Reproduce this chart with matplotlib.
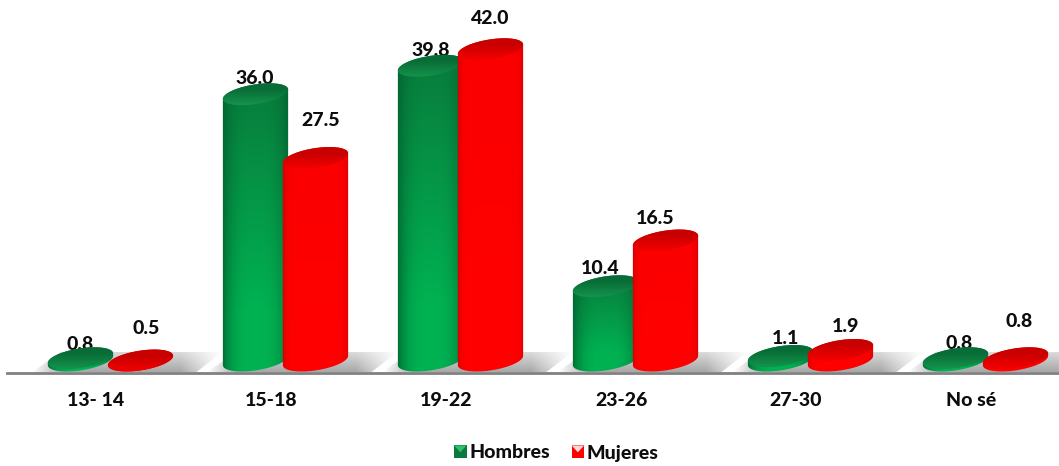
import numpy as np
import matplotlib
matplotlib.use("Agg")
import matplotlib.pyplot as plt
from matplotlib.patches import Patch, PathPatch, Polygon, Rectangle
from matplotlib.path import Path
from matplotlib.legend_handler import HandlerBase

categories = ["13- 14", "15-18", "19-22", "23-26", "27-30", "No sé"]
hombres = [0.8, 36.0, 39.8, 10.4, 1.1, 0.8]
mujeres = [0.5, 27.5, 42.0, 16.5, 1.9, 0.8]

# label nudges in pixels from the top of each bar (dx, dy up)
lab_h = [(0, 14), (-1, 16), (0, 15), (-5, 18), (5, 18), (4, 15)]
lab_m = [(6, 32), (5, 38), (0, 31), (-10, 22), (5, 24), (4, 37)]

PXU = 175.0      # pixels per category
PYU = 7.5        # pixels per value unit
AXMIN = 0.5      # value at the foot of the bars
X0 = 96.0
Y0 = 360.5
OFF_H, OFF_M = -15.5, 44.5
A, B, TH = 33.0, 9.8, np.radians(9)
FS = 14
TXT = "#0d0d0d"

W, H = 1059, 466
plt.rcParams["font.family"] = ["Lato", "DejaVu Sans"]
fig = plt.figure(figsize=(W / 100, H / 100), dpi=100, facecolor="white")
ax = fig.add_axes([0, 0, 1, 1])


def pts(xc, v, t):
    ex = A * np.cos(t) * np.cos(TH) - B * np.sin(t) * np.sin(TH)
    ey = A * np.cos(t) * np.sin(TH) + B * np.sin(t) * np.cos(TH)
    return np.column_stack([xc + ex / PXU, v + ey / PYU])


def grad_image(rgb, xr, yr, clip, z):
    im = ax.imshow(rgb, extent=[xr[0], xr[1], yr[0], yr[1]], origin="lower",
                   aspect="auto", interpolation="bilinear", zorder=z)
    p = PathPatch(clip, transform=ax.transData, fc="none", ec="none")
    im.set_clip_path(p)
    return im


def lerp(a, b, f):
    return np.array(a) + (np.array(b) - np.array(a)) * f[..., None]


def cylinder(xc, v, kind, z):
    t0 = np.arctan2(-B * np.sin(TH), A * np.cos(TH))
    low = pts(xc, AXMIN, np.linspace(t0 + np.pi, t0 + 2 * np.pi, 60))
    upp = pts(xc, v, np.linspace(t0, t0 + np.pi, 60))
    body = Path(np.vstack([low, upp, low[:1]]), closed=True)
    xr = (xc - 36 / PXU, xc + 36 / PXU)
    yr = (AXMIN - 14 / PYU, v + 14 / PYU)
    u = np.linspace(-1, 1, 90)
    vv = np.linspace(0, 1, 160)
    U, V = np.meshgrid(u, vv)
    if kind == "h":
        c = lerp((8, 128, 62), (0, 178, 82), np.clip(1.3 - V * 1.4, 0, 1))
        edge = np.array((0, 96, 46))
        f = 1 - np.abs(U) ** 3.2
    else:
        c = lerp((250, 0, 0), (255, 0, 0), np.clip(1.2 - V * 1.2, 0, 1))
        edge = np.array((165, 0, 0))
        f = np.clip(1 - np.abs(U) ** 11, 0, 1)
    rgb = edge + (c - edge) * f[..., None]
    grad_image(rgb / 255, xr, yr, body, z)
    # top face
    top = Path(pts(xc, v, np.linspace(0, 2 * np.pi, 120)), closed=True)
    yr2 = (v - 14 / PYU, v + 14 / PYU)
    VV = np.linspace(0, 1, 60)[:, None] * np.ones((60, 40))
    if kind == "h":
        rgb2 = lerp((22, 150, 78), (8, 108, 54), np.clip(VV * 1.6 - 0.1, 0, 1))
    else:
        rgb2 = lerp((248, 0, 0), (200, 0, 0), np.clip(VV * 1.6 - 0.1, 0, 1))
    grad_image(rgb2 / 255, xr, yr2, top, z + 0.1)


# ground shadows behind every group
def shadow(xc):
    x0, x1 = xc - 78 / PXU, xc + 112 / PXU
    v_bot = AXMIN + (Y0 - 372) / PYU
    v_top = AXMIN + (Y0 - 352) / PYU
    poly = Path([(x0, v_bot), (x0 + 28 / PXU, v_top), (x1, v_top),
                 (x1 - 26 / PXU, v_bot), (x0, v_bot)], closed=True)
    u = np.linspace(0, 1, 190)
    v = np.linspace(0, 1, 20)
    U, V = np.meshgrid(u, v)
    grey = 168 + 50 * V
    alpha = np.clip(U / 0.16, 0, 1) * np.clip((1 - U) / 0.22, 0, 1)
    rgb = 255 - (255 - grey) * alpha
    im = ax.imshow(np.dstack([rgb, rgb, rgb]) / 255, extent=[x0, x1, v_bot, v_top],
                   origin="lower", aspect="auto", interpolation="bilinear", zorder=1)
    im.set_clip_path(PathPatch(poly, transform=ax.transData, fc="none", ec="none"))


xs = np.arange(len(categories))
for i in xs:
    shadow(i + 14.5 / PXU)

for i, (h, m) in enumerate(zip(hombres, mujeres)):
    xh, xm = i + OFF_H / PXU, i + OFF_M / PXU
    cylinder(xh, h, "h", 3)
    cylinder(xm, m, "m", 4)
    ax.text(xh + lab_h[i][0] / PXU, h + lab_h[i][1] / PYU, f"{h:.1f}", ha="center", va="center",
            fontsize=FS, fontweight=900, color=TXT, zorder=2)
    ax.text(xm + lab_m[i][0] / PXU, m + lab_m[i][1] / PYU, f"{m:.1f}", ha="center", va="center",
            fontsize=FS, fontweight=900, color=TXT, zorder=2)

ax.set_xlim(-X0 / PXU, (W - X0) / PXU)
ax.set_ylim(AXMIN + (Y0 - H) / PYU, AXMIN + Y0 / PYU)
ax.patch.set_visible(False)
for s in ("top", "left", "right"):
    ax.spines[s].set_visible(False)
base_v = AXMIN + (Y0 - 372.5) / PYU
ax.spines["bottom"].set_position(("data", base_v))
ax.spines["bottom"].set_bounds((7 - X0) / PXU, (W - X0) / PXU)
ax.spines["bottom"].set_linewidth(2.0)
ax.spines["bottom"].set_color("#808080")
ax.spines["bottom"].set_zorder(2.5)
ax.set_yticks([])
ax.set_xticks(xs, categories, fontsize=FS, fontweight=900, color=TXT)
ax.tick_params(axis="x", length=0, pad=14)


class Swatch(HandlerBase):
    def __init__(self, base, tri):
        super().__init__()
        self.base, self.tri = base, tri

    def create_artists(self, legend, orig, xd, yd, w, h, fs, trans):
        s = 9.0
        x, y = -xd + (w - s) / 2, -yd + (h - s) / 2
        r = Rectangle((x, y), s, s, fc=self.base, ec="none", transform=trans)
        t = Polygon([(x, y + s), (x + s, y + s), (x + s / 2, y + s * 0.45)],
                    fc=self.tri, ec="none", transform=trans)
        return [r, t]


hs = [Patch(color="#0a7a3c", label="Hombres"), Patch(color="#ff0000", label="Mujeres")]
ax.legend(handles=hs, loc="center", bbox_to_anchor=(556 / W, 1 - 453 / H), ncol=2, frameon=False,
          prop={"size": FS, "weight": 900}, handlelength=0.7, handleheight=0.7,
          handletextpad=0.1, columnspacing=1.1, labelcolor=TXT,
          handler_map={hs[0]: Swatch("#0a7a3c", "#2fc06a"), hs[1]: Swatch("#ff0000", "#ffd8d8")})

fig.savefig("out.png", dpi=100, facecolor="white")
